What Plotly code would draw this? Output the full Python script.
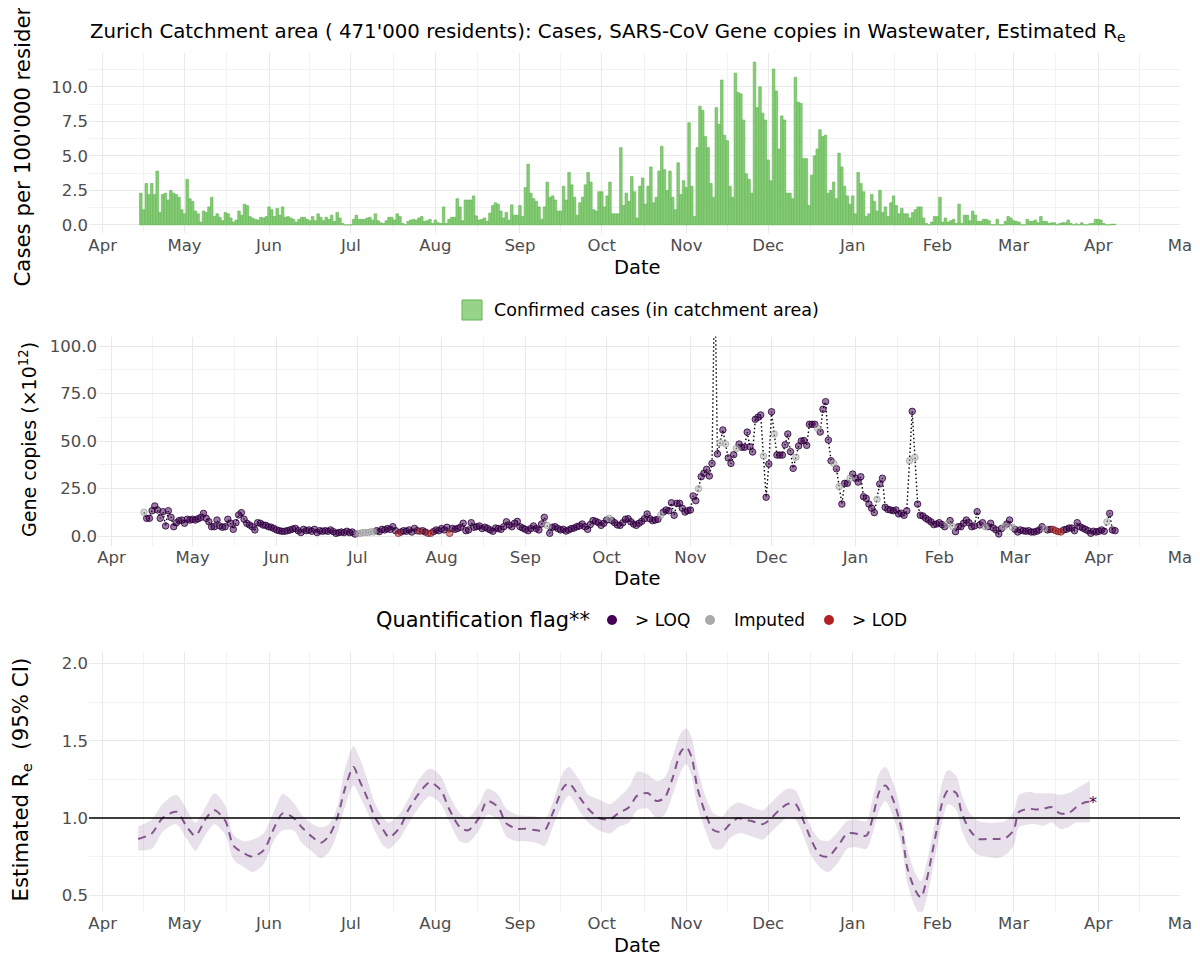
import pandas as pd
import plotly.graph_objects as go

# page body has an 8px margin; the figure is sized so that it fills the 1200x961 window
OFF = 8
W, H = 1200 - OFF, 961 - OFF
FONT = "DejaVu Sans"

# ---------------- data ----------------
case_start = "2020-04-15"
cases_apr_aug = [
    2.3, 1.1, 3.0, 2.2, 3.0, 2.2, 3.9, 0.9, 2.2, 2.3,
    1.8, 2.5, 2.3, 2.2, 2.0, 1.1, 0.8, 3.3, 1.9, 1.7,
    1.0, 0.8, 0.2, 1.0, 0.9, 1.3, 2.0, 0.6, 0.8, 0.55,
    0.3, 0.9, 0.8, 0.5, 0.2, 0.35, 1.0, 0.7, 1.5, 1.4,
    0.6, 0.5, 0.4, 0.35, 0.55, 0.5, 0.6, 1.3, 1.1, 0.6,
    1.2, 0.7, 1.3, 0.55, 0.6, 0.5, 0.4, 0.2, 0.4, 0.55,
    0.55, 0.4, 0.3, 0.6, 0.3, 0.8, 0.55, 0.3, 0.55, 0.4,
    0.7, 0.25, 0.9, 0.5, 0.1, 0.0, 0.0, 0.0, 0.4, 0.7,
    0.4, 0.4, 0.4, 0.5, 0.55, 0.35, 0.8, 0.3, 0.15, 0.1,
    0.3, 0.55, 0.55, 0.35, 0.8, 0.6, 0.1, 0.0, 0.25, 0.35,
    0.4, 0.35, 0.5, 0.6, 0.25, 0.3, 0.4, 0.1, 0.35, 0.15,
    0.1, 1.3, 0.1, 0.4, 0.55, 0.55, 1.9, 1.3, 0.3, 1.8,
]
cases_aug_dec = [
    1.8, 1.8, 2.1, 0.65, 0.35, 0.4, 0.5, 0.25, 0.85, 1.4,
    1.6, 1.5, 1.0, 0.5, 0.9, 0.35, 1.45, 0.7, 0.7, 1.4,
    0.6, 2.7, 4.4, 2.3, 1.9, 1.7, 1.3, 0.4, 1.3, 3.1,
    2.0, 2.1, 1.8, 1.0, 1.0, 2.8, 1.8, 3.8, 2.9, 2.0,
    0.7, 1.6, 2.0, 2.9, 3.8, 3.1, 1.1, 1.0, 2.4, 2.4,
    1.3, 2.1, 3.1, 0.8, 0.8, 0.8, 5.6, 1.4, 2.3, 1.7,
    3.5, 2.4, 0.5, 2.8, 3.4, 1.5, 2.8, 4.2, 1.6, 2.0,
    3.9, 5.7, 4.0, 2.5, 3.9, 2.0, 1.1, 4.5, 2.2, 3.2,
    2.7, 7.4, 2.8, 0.6, 5.6, 8.6, 8.3, 6.4, 5.6, 3.0,
    2.0, 8.5, 7.3, 10.5, 6.5, 6.1, 2.8, 2.0, 11.0, 9.6,
    9.5, 7.6, 3.7, 3.3, 2.3, 11.8, 8.5, 10.0, 8.1, 7.6,
    4.7, 3.2, 11.3, 9.7, 5.5, 7.9, 7.6, 2.3,
]
cases_dec_apr = [
    2.3, 1.9, 10.7, 8.9, 8.8, 4.8, 4.8, 1.4, 3.6, 5.0,
    5.5, 6.9, 6.4, 6.5, 2.3, 2.5, 3.1, 1.9, 5.2, 4.2,
    2.8, 2.1, 1.5, 2.1, 0.8, 3.8, 3.0, 2.4, 0.6, 0.8,
    2.2, 1.7, 1.0, 2.5, 0.9, 1.3, 0.6, 1.6, 2.1, 1.4,
    0.8, 1.2, 0.8, 0.8, 0.5, 0.9, 1.1, 1.3, 1.3, 0.5,
    0.1, 0.0, 0.2, 0.6, 0.6, 2.0, 0.2, 0.5, 0.2, 0.3,
    0.4, 0.1, 1.5, 0.1, 0.7, 0.7, 0.3, 1.0, 0.7, 0.25,
    0.25, 0.4, 0.4, 0.3, 0.0, 0.0, 0.4, 0.0, 0.0, 0.25,
    0.6, 0.5, 0.3, 0.25, 0.2, 0.0, 0.0, 0.4, 0.25, 0.25,
    0.35, 0.15, 0.6, 0.25, 0.25, 0.1, 0.15, 0.15, 0.0, 0.1,
    0.15, 0.15, 0.35, 0.1, 0.0, 0.08, 0.0, 0.15, 0.0, 0.0,
    0.08, 0.1, 0.4, 0.4, 0.35, 0.1, 0.0, 0.0, 0.05, 0.05,
]

gene_start = "2020-04-13"
gene_apr_aug = [
    12.5, 9.3, 9.3, 13.3, 15.8, 13.7, 9.3, 12.8, 5.3, 13.3,
    9.8, 4.9, 7.0, 8.1, 8.4, 6.7, 8.8, 8.4, 8.8, 8.4,
    9.1, 9.8, 11.9, 9.3, 7.5, 4.9, 4.9, 8.4, 5.3, 4.6,
    4.9, 8.8, 6.7, 3.5, 7.0, 11.1, 12.3, 8.8, 6.7, 5.8,
    4.9, 3.2, 7.0, 6.7, 5.8, 5.6, 4.9, 4.6, 4.0, 3.2,
    2.8, 2.5, 2.5, 2.8, 3.2, 3.7, 4.0, 2.8, 1.8, 3.5,
    2.8, 3.2, 2.5, 3.5, 1.8, 2.8, 2.5, 2.8, 2.5, 3.2,
    2.3, 1.4, 1.8, 2.1, 1.8, 2.5, 1.8, 2.1, 1.0, 1.4,
    1.4, 1.8, 1.8, 1.8, 2.3, 2.1, 2.8, 2.3, 3.5, 3.2,
    3.9, 3.5, 4.9, 2.8, 1.4, 2.1, 2.8, 2.5, 3.2, 2.1,
    4.0, 2.8, 2.5, 2.8, 2.1, 1.4, 1.4, 2.3, 3.2, 2.8,
    3.9, 3.2, 4.6, 1.4, 4.0, 3.5, 4.0, 4.6, 6.7, 2.8,
]
gene_aug_dec = [
    3.2, 7.0, 4.6, 4.9, 5.3, 3.9, 4.6, 4.0, 3.2, 2.5,
    4.2, 3.9, 3.5, 4.9, 7.5, 5.8, 4.9, 6.7, 7.7, 4.9,
    4.2, 3.5, 2.8, 3.9, 5.3, 3.9, 3.2, 6.3, 9.8, 5.6,
    1.4, 4.6, 4.9, 3.9, 3.2, 3.5, 2.6, 3.2, 3.9, 4.2,
    4.9, 5.3, 6.3, 4.9, 3.5, 6.0, 8.1, 7.7, 7.0, 5.6,
    6.7, 8.4, 9.3, 8.1, 7.0, 5.8, 5.6, 7.0, 8.8, 9.1,
    7.5, 6.3, 5.6, 6.7, 7.7, 9.1, 11.6, 9.1, 8.1, 8.4,
    8.8, 10.9, 12.6, 13.7, 13.3, 17.5, 10.9, 17.2, 17.2, 14.6,
    12.6, 13.3, 13.7, 21.1, 18.6, 24.9, 31.2, 33.0, 35.1, 31.6,
    38.2, 140.0, 43.2, 49.1, 55.8, 48.4, 41.1, 38.2, 42.8, 46.1,
    48.4, 46.7, 46.7, 54.7, 47.0, 44.2, 61.4, 62.5, 63.7, 42.1,
    20.4, 37.9, 65.4, 53.7, 42.6, 42.6, 42.6, 48.0,
]
gene_dec_apr = [
    53.7, 44.4, 35.6, 41.4, 47.4, 50.0, 50.2, 47.7, 58.8, 58.8,
    58.8, 56.7, 54.7, 66.7, 70.7, 50.5, 39.6, 38.2, 35.4, 26.0,
    16.8, 27.7, 27.7, 30.4, 32.6, 30.4, 28.4, 31.2, 20.7, 19.8,
    16.8, 14.6, 12.3, 19.3, 27.4, 30.4, 15.1, 14.0, 13.7, 13.3,
    13.7, 11.6, 12.0, 10.9, 13.3, 39.6, 65.6, 41.4, 16.8, 10.9,
    10.5, 9.3, 8.4, 7.4, 6.0, 6.3, 7.0, 6.0, 4.9, 6.3,
    8.1, 4.9, 2.3, 4.9, 4.9, 6.7, 8.4, 7.0, 4.9, 5.3,
    12.8, 5.8, 7.0, 4.9, 4.9, 6.7, 4.2, 3.2, 1.1, 3.9,
    4.9, 6.3, 8.4, 4.6, 3.5, 2.1, 3.2, 2.8, 2.5, 2.8,
    2.1, 2.1, 2.5, 3.2, 4.9, 3.9, 3.2, 3.5, 3.5, 2.8,
    2.3, 2.1, 3.2, 3.5, 4.2, 4.2, 2.8, 7.0, 4.9, 4.2,
    3.5, 2.8, 1.4, 2.5, 2.1, 2.5, 3.2, 2.5, 7.4, 11.9,
    3.2, 2.8,
]
imputed_dates = [
    "2020-04-13", "2020-07-01", "2020-07-02", "2020-07-03", "2020-07-04",
    "2020-07-05", "2020-07-06", "2020-07-07", "2020-09-09", "2020-10-02",
    "2020-10-21", "2020-11-04", "2020-11-12", "2020-11-14", "2020-11-18",
    "2020-11-28", "2020-12-02", "2020-12-10", "2020-12-18", "2020-12-24",
    "2020-12-26", "2020-12-30", "2021-01-09", "2021-01-21", "2021-01-23",
    "2021-02-04", "2021-02-06", "2021-02-18", "2021-02-25", "2021-02-28",
    "2021-03-12", "2021-04-04",
]
lod_dates = [
    "2020-07-16", "2020-07-24", "2020-07-27", "2020-07-28", "2020-08-04",
    "2021-03-15", "2021-03-16", "2021-03-17", "2021-03-18",
]

re_dates = [
    "2020-04-14", "2020-04-19", "2020-04-23", "2020-04-28", "2020-05-02", "2020-05-05",
    "2020-05-09", "2020-05-12", "2020-05-16", "2020-05-19", "2020-05-23", "2020-05-26",
    "2020-05-30", "2020-06-03", "2020-06-06", "2020-06-10", "2020-06-13", "2020-06-17",
    "2020-06-20", "2020-06-23", "2020-06-26", "2020-06-29", "2020-07-02", "2020-07-04",
    "2020-07-07", "2020-07-10", "2020-07-13", "2020-07-15", "2020-07-19", "2020-07-22",
    "2020-07-26", "2020-07-30", "2020-08-03", "2020-08-06", "2020-08-10", "2020-08-13",
    "2020-08-17", "2020-08-20", "2020-08-24", "2020-08-27", "2020-08-31", "2020-09-03",
    "2020-09-07", "2020-09-10", "2020-09-13", "2020-09-17", "2020-09-19", "2020-09-23",
    "2020-09-26", "2020-09-30", "2020-10-04", "2020-10-07", "2020-10-11", "2020-10-14",
    "2020-10-18", "2020-10-21", "2020-10-24", "2020-10-27", "2020-10-30", "2020-11-01",
    "2020-11-03", "2020-11-05", "2020-11-08", "2020-11-11", "2020-11-14", "2020-11-17",
    "2020-11-20", "2020-11-22", "2020-11-25", "2020-11-29", "2020-12-01", "2020-12-05",
    "2020-12-08", "2020-12-11", "2020-12-14", "2020-12-17", "2020-12-20", "2020-12-23",
    "2020-12-27", "2020-12-30", "2021-01-02", "2021-01-06", "2021-01-08", "2021-01-11",
    "2021-01-13", "2021-01-16", "2021-01-19", "2021-01-21", "2021-01-24", "2021-01-26",
    "2021-01-28", "2021-01-31", "2021-02-03", "2021-02-05", "2021-02-08", "2021-02-10",
    "2021-02-13", "2021-02-16", "2021-02-19", "2021-02-23", "2021-02-26", "2021-03-01",
    "2021-03-03", "2021-03-07", "2021-03-09", "2021-03-12", "2021-03-15", "2021-03-18",
    "2021-03-21", "2021-03-24", "2021-03-27", "2021-03-29",
]
re_mean = [
    0.864, 0.90, 1.00, 1.04, 0.94, 0.885, 1.00, 1.05, 0.98, 0.82, 0.77, 0.75,
    0.79, 0.94, 1.03, 1.00, 0.94, 0.875, 0.84, 0.885, 1.00, 1.20, 1.33, 1.25,
    1.13, 1.00, 0.92, 0.875, 0.94, 1.05, 1.16, 1.23, 1.18, 1.06, 0.94, 0.92,
    1.00, 1.11, 1.07, 0.965, 0.93, 0.93, 0.92, 0.92, 1.03, 1.20, 1.225, 1.13,
    1.06, 1.00, 0.99, 1.03, 1.07, 1.145, 1.16, 1.11, 1.13, 1.26, 1.43, 1.46,
    1.39, 1.20, 1.03, 0.92, 0.91, 0.96, 1.00, 0.99, 0.98, 0.96, 0.98, 1.05,
    1.09, 1.09, 0.98, 0.85, 0.76, 0.75, 0.83, 0.90, 0.90, 0.885, 0.98, 1.18,
    1.21, 1.11, 0.92, 0.68, 0.53, 0.485, 0.59, 0.85, 1.11, 1.18, 1.16, 1.03,
    0.92, 0.864, 0.864, 0.864, 0.87, 0.92, 1.04, 1.06, 1.055, 1.06, 1.07, 1.03,
    1.03, 1.07, 1.10, 1.105,
]
re_lower = [
    0.79, 0.80, 0.91, 0.96, 0.86, 0.79, 0.90, 0.96, 0.89, 0.73, 0.68, 0.65,
    0.70, 0.86, 0.92, 0.92, 0.84, 0.78, 0.74, 0.78, 0.90, 1.08, 1.21, 1.15,
    1.04, 0.91, 0.82, 0.80, 0.87, 0.96, 1.07, 1.14, 1.09, 0.98, 0.85, 0.84,
    0.92, 1.02, 0.99, 0.88, 0.85, 0.85, 0.84, 0.82, 0.94, 1.10, 1.145, 1.04,
    0.97, 0.92, 0.90, 0.94, 0.97, 1.05, 1.06, 1.00, 1.02, 1.15, 1.30, 1.35,
    1.27, 1.08, 0.92, 0.80, 0.80, 0.87, 0.90, 0.90, 0.88, 0.86, 0.89, 0.96,
    1.00, 0.99, 0.88, 0.75, 0.68, 0.65, 0.72, 0.80, 0.81, 0.80, 0.88, 1.06,
    1.11, 1.00, 0.81, 0.58, 0.42, 0.37, 0.47, 0.73, 0.99, 1.09, 1.05, 0.92,
    0.81, 0.76, 0.75, 0.74, 0.76, 0.82, 0.94, 0.96, 0.96, 0.95, 0.97, 0.93,
    0.94, 0.97, 0.97, 0.97,
]
re_upper = [
    0.945, 0.99, 1.09, 1.15, 1.05, 0.97, 1.08, 1.16, 1.08, 0.89, 0.85, 0.86,
    0.90, 1.05, 1.155, 1.10, 1.02, 0.96, 0.94, 0.96, 1.07, 1.33, 1.465, 1.40,
    1.25, 1.09, 1.00, 0.97, 1.03, 1.12, 1.25, 1.32, 1.27, 1.15, 1.03, 1.00,
    1.09, 1.19, 1.15, 1.06, 1.02, 1.015, 1.01, 0.99, 1.10, 1.30, 1.33, 1.24,
    1.15, 1.12, 1.09, 1.13, 1.20, 1.30, 1.28, 1.24, 1.26, 1.40, 1.55, 1.58,
    1.52, 1.33, 1.14, 1.03, 1.01, 1.07, 1.10, 1.09, 1.07, 1.05, 1.08, 1.15,
    1.19, 1.18, 1.06, 0.93, 0.86, 0.85, 0.92, 0.98, 0.99, 0.98, 1.10, 1.30,
    1.33, 1.22, 1.02, 0.80, 0.64, 0.59, 0.70, 0.96, 1.24, 1.31, 1.27, 1.15,
    1.03, 0.98, 0.97, 0.97, 0.98, 1.04, 1.15, 1.17, 1.16, 1.16, 1.16, 1.15,
    1.16, 1.19, 1.22, 1.24,
]

month_labels = ["Apr", "May", "Jun", "Jul", "Aug", "Sep", "Oct", "Nov", "Dec",
                "Jan", "Feb", "Mar", "Apr", "Ma"]
cases_ticks = [0, 2.5, 5, 7.5, 10]
cases_ticktext = ["0.0", "2.5", "5.0", "7.5", "10.0"]
gene_ticks = [0, 25, 50, 75, 100]
gene_ticktext = ["0.0", "25.0", "50.0", "75.0", "100.0"]
re_ticks = [0.5, 1.0, 1.5, 2.0]
re_ticktext = ["0.5", "1.0", "1.5", "2.0"]

# ---------------- derived ----------------
cases = cases_apr_aug + cases_aug_dec + cases_dec_apr
case_dates = pd.date_range(case_start, periods=len(cases), freq="D")
gene = gene_apr_aug + gene_aug_dec + gene_dec_apr
gene_dates = pd.date_range(gene_start, periods=len(gene), freq="D")
imp = set(pd.to_datetime(imputed_dates))
lod = set(pd.to_datetime(lod_dates))
flags = ["I" if d in imp else ("D" if d in lod else "L") for d in gene_dates]

month_ticks = list(pd.date_range("2020-04-01", "2021-05-01", freq="MS"))
minor_x = [a + (b - a) / 2 for a, b in zip(month_ticks[:-1], month_ticks[1:])]
XRANGE = ["2020-03-27", "2021-05-01"]


def px(x):
    """window pixel x -> paper fraction"""
    return (x - OFF) / W


def py(y):
    """window pixel y -> paper fraction"""
    return 1 - (y - OFF) / H


fig = go.Figure()

fig.add_trace(go.Bar(
    x=case_dates, y=cases, xaxis="x", yaxis="y",
    marker=dict(color="#86cd77", line=dict(color="#5fb24f", width=0.6)),
    showlegend=False,
))

# gene copies
fig.add_trace(go.Scatter(
    x=gene_dates, y=gene, xaxis="x2", yaxis="y2", mode="lines",
    line=dict(color="black", width=1.4, dash="1.5px,2.5px"),
    showlegend=False, hoverinfo="skip",
))
styles = {
    "L": ("rgba(68,1,84,0.52)", "rgba(40,0,55,0.8)"),
    "I": ("rgba(175,175,175,0.5)", "rgba(150,150,150,0.65)"),
    "D": ("rgba(178,34,34,0.5)", "rgba(120,20,20,0.7)"),
}
for f, (fill, edge) in styles.items():
    xs = [d for d, g in zip(gene_dates, flags) if g == f]
    ys = [v for v, g in zip(gene, flags) if g == f]
    fig.add_trace(go.Scatter(
        x=xs, y=ys, xaxis="x2", yaxis="y2", mode="markers",
        marker=dict(size=6.5, color=fill, line=dict(color=edge, width=1)),
        showlegend=False, cliponaxis=True,
    ))

# Re
fig.add_trace(go.Scatter(
    x=re_dates, y=re_lower, xaxis="x3", yaxis="y3", mode="lines",
    line=dict(width=0, shape="spline", smoothing=0.8), showlegend=False, hoverinfo="skip",
))
fig.add_trace(go.Scatter(
    x=re_dates, y=re_upper, xaxis="x3", yaxis="y3", mode="lines",
    line=dict(width=0, shape="spline", smoothing=0.8), fill="tonexty",
    fillcolor="rgba(68,1,84,0.12)", showlegend=False, hoverinfo="skip",
))
fig.add_trace(go.Scatter(
    x=re_dates, y=re_mean, xaxis="x3", yaxis="y3", mode="lines",
    line=dict(color="rgba(68,1,84,0.62)", width=2, dash="8px,6px", shape="spline", smoothing=0.8),
    showlegend=False,
))

grid = "#e9e9e9"
minor_grid = "#f2f2f2"
tickfont = dict(family=FONT, size=16.5, color="#4d4d4d")


def xaxis(dom, anchor):
    return dict(
        domain=dom, anchor=anchor, range=XRANGE, type="date",
        tickmode="array", tickvals=month_ticks, ticktext=month_labels,
        showgrid=True, gridcolor=grid, gridwidth=1, zeroline=False, showline=False,
        ticks="", tickfont=tickfont, automargin=False,
        minor=dict(tickmode="array", tickvals=minor_x, showgrid=True,
                   gridcolor=minor_grid, gridwidth=0.8, ticks=""),
    )


def yaxis(dom, anchor, rng, tv, tt, minor):
    return dict(
        domain=dom, anchor=anchor, range=rng,
        tickmode="array", tickvals=tv, ticktext=tt,
        showgrid=True, gridcolor=grid, gridwidth=1, zeroline=False, showline=False,
        ticks="", tickfont=tickfont, automargin=False,
        minor=dict(tickmode="array", tickvals=minor, showgrid=True,
                   gridcolor=minor_grid, gridwidth=0.8, ticks=""),
    )


fig.update_layout(
    width=W, height=H, template="none",
    paper_bgcolor="white", plot_bgcolor="white",
    margin=dict(l=0, r=0, t=0, b=0),
    bargap=0.06, showlegend=False,
    font=dict(family=FONT, color="black"),
    xaxis=xaxis([px(89), px(1180)], "y"),
    yaxis=yaxis([py(233), py(53)], "x", [-0.59, 12.46], cases_ticks, cases_ticktext,
                [1.25, 3.75, 6.25, 8.75, 11.25]),
    xaxis2=xaxis([px(98), px(1180)], "y2"),
    yaxis2=yaxis([py(545.5), py(336.5)], "x2", [-5, 105], gene_ticks, gene_ticktext,
                 [12.5, 37.5, 62.5, 87.5]),
    xaxis3=xaxis([px(89), px(1180)], "y3"),
    yaxis3=yaxis([py(911.7), py(651.7)], "x3", [0.393, 2.077], re_ticks, re_ticktext,
                 [0.75, 1.25, 1.75]),
)

ann = []


def text(t, x, y, size, xanchor="center", angle=0, color="black"):
    ann.append(dict(text=t, x=px(x), y=py(y), xref="paper", yref="paper",
                    xanchor=xanchor, yanchor="middle", showarrow=False, textangle=angle,
                    font=dict(family=FONT, size=size, color=color)))


text("Zurich Catchment area ( 471'000 residents): Cases, SARS-CoV Gene copies in Wastewater, Estimated R<sub>e</sub>",
     88, 32, 19.8, xanchor="left")
text("Cases per 100'000 residents", 21.5, 135, 21.3, angle=-90)
text("Gene copies (\u00d710<sup>12</sup>)", 28, 440, 19, angle=-90)
text("Estimated R<sub>e</sub>\u00a0 (95% CI)", 21.5, 780, 21.3, angle=-90)
for yy in (268, 578, 945):
    text("Date", 637, yy, 19.5)
text("Confirmed cases (in catchment area)", 492, 310, 17.5, xanchor="left")
text("Quantification flag**", 374, 620, 20.9, xanchor="left")
text("&gt; LOQ", 633, 620, 17, xanchor="left")
text("Imputed", 732, 620, 17, xanchor="left")
text("&gt; LOD", 850, 620, 17, xanchor="left")
ann.append(dict(text="*", x="2021-03-30", y=1.10, xref="x3", yref="y3", showarrow=False,
                xanchor="center", yanchor="middle",
                font=dict(family=FONT, size=16, color="#440154")))
fig.update_layout(annotations=ann)

shapes = [
    dict(type="rect", xref="paper", yref="paper", x0=px(462), x1=px(482), y0=py(320), y1=py(300),
         fillcolor="#97d48a", line=dict(color="#62b552", width=1)),
    dict(type="line", xref="x3 domain", yref="y3", x0=0, x1=1, y0=1, y1=1,
         line=dict(color="black", width=1.3)),
]
for cx, col in ((612, "#440154"), (710, "#a9a9a9"), (829, "#b22222")):
    shapes.append(dict(type="circle", xref="paper", yref="paper",
                       x0=px(cx - 5), x1=px(cx + 5), y0=py(625), y1=py(615),
                       fillcolor=col, line=dict(width=0)))
fig.update_layout(shapes=shapes)

fig.write_html("out.html")
